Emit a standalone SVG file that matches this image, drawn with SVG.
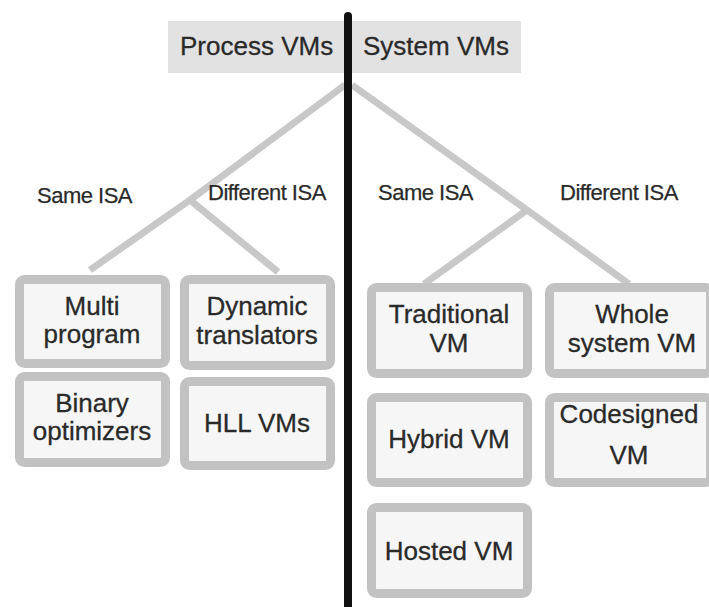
<svg xmlns="http://www.w3.org/2000/svg" width="709" height="607" viewBox="0 0 709 607">
<style>
.box{fill:#f6f6f6;stroke:#c2c2c2;stroke-width:9}
.t{font-family:"Liberation Sans",Arial,sans-serif;font-size:26px;fill:#2a2a2a;stroke:#2a2a2a;stroke-width:0.3;text-anchor:middle}
.lbl{font-family:"Liberation Sans",Arial,sans-serif;font-size:22px;fill:#2a2a2a;stroke:#2a2a2a;stroke-width:0.25;letter-spacing:-0.5px}
.hdr{font-family:"Liberation Sans",Arial,sans-serif;font-size:26px;fill:#2a2a2a;stroke:#2a2a2a;stroke-width:0.3}
.conn{stroke:#c8c8c8;stroke-width:7;fill:none;stroke-linecap:butt}
</style>
<rect width="709" height="607" fill="#ffffff"/>
<g id="header">
<rect x="168" y="21" width="353" height="52" fill="#e2e2e2"/>
<text class="hdr" x="180" y="55">Process VMs</text>
<text class="hdr" x="363" y="55">System VMs</text>
</g>
<g id="connectors">
<polyline class="conn" points="345,85 190,200 90,270"/>
<line class="conn" x1="190" y1="200" x2="278" y2="272"/>
<polyline class="conn" points="352,85 527,210 629,284"/>
<line class="conn" x1="527" y1="210" x2="424" y2="284"/>
</g>
<g id="divider">
<line x1="348" y1="16" x2="348" y2="607" stroke="#111" stroke-width="8" stroke-linecap="round"/>
</g>
<g id="labels">
<text class="lbl" x="37" y="203">Same ISA</text>
<text class="lbl" x="208" y="200">Different ISA</text>
<text class="lbl" x="378" y="200">Same ISA</text>
<text class="lbl" x="560" y="200">Different ISA</text>
</g>
<g id="multi-program">
<rect class="box" x="19.5" y="279.5" width="146" height="84" rx="5"/>
<text class="t" x="92" y="315">Multi</text>
<text class="t" x="92" y="343">program</text>
</g>
<g id="dynamic-translators">
<rect class="box" x="184.5" y="279.5" width="146" height="86" rx="5"/>
<text class="t" x="257" y="315">Dynamic</text>
<text class="t" x="257" y="344">translators</text>
</g>
<g id="binary-optimizers">
<rect class="box" x="19.5" y="376.5" width="146" height="86" rx="5"/>
<text class="t" x="92" y="412">Binary</text>
<text class="t" x="92" y="440">optimizers</text>
</g>
<g id="hll-vms">
<rect class="box" x="184.5" y="381.5" width="146" height="84" rx="5"/>
<text class="t" x="257" y="432">HLL VMs</text>
</g>
<g id="traditional-vm">
<rect class="box" x="371.5" y="287.5" width="156" height="86" rx="5"/>
<text class="t" x="449" y="323">Traditional</text>
<text class="t" x="449" y="352">VM</text>
</g>
<g id="whole-system-vm">
<rect class="box" x="549.5" y="287.5" width="161" height="86" rx="5"/>
<text class="t" x="632" y="323">Whole</text>
<text class="t" x="632" y="352">system VM</text>
</g>
<g id="hybrid-vm">
<rect class="box" x="371.5" y="397.5" width="156" height="85" rx="5"/>
<text class="t" x="449" y="448">Hybrid VM</text>
</g>
<g id="codesigned-vm">
<rect class="box" x="549.5" y="397.5" width="161" height="85" rx="5"/>
<text class="t" x="629" y="423">Codesigned</text>
<text class="t" x="629" y="464">VM</text>
</g>
<g id="hosted-vm">
<rect class="box" x="371.5" y="507.5" width="156" height="86" rx="5"/>
<text class="t" x="449" y="560">Hosted VM</text>
</g>
</svg>
